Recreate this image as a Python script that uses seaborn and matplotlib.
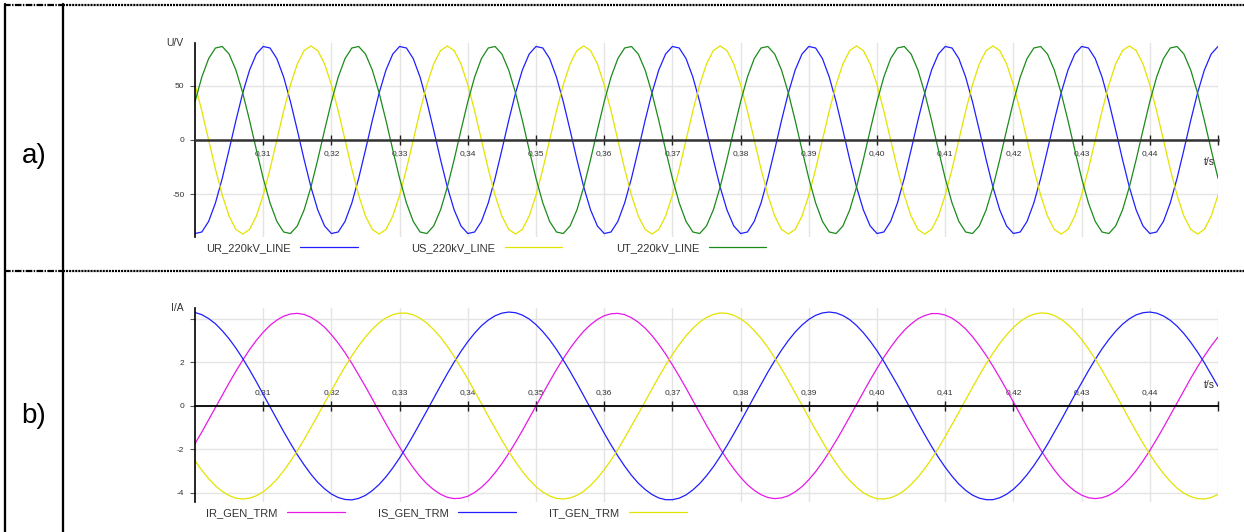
import numpy as np
import pandas as pd
import matplotlib.pyplot as plt
import seaborn as sns
from matplotlib.lines import Line2D


W, H = 1244, 532

# a) voltages on the 220 kV line, one sample per ms starting at t = 0.300 s
VOLT_T0 = 0.300
VOLT_DT = 0.001
UR_220KV_LINE = [
    -86.5, -85.1, -75.3, -58.2, -35.4, -9.1, 18.1, 43.5, 64.7, 79.5, 86.5, 85.1, 75.3, 58.2, 35.4, 9.1, -18.1, -43.5, -64.7, -79.5,
    -86.5, -85.1, -75.3, -58.2, -35.4, -9.1, 18.1, 43.5, 64.7, 79.5, 86.5, 85.1, 75.3, 58.2, 35.4, 9.1, -18.1, -43.5, -64.7, -79.5,
    -86.5, -85.1, -75.3, -58.2, -35.4, -9.1, 18.1, 43.5, 64.7, 79.5, 86.5, 85.1, 75.3, 58.2, 35.4, 9.1, -18.1, -43.5, -64.7, -79.5,
    -86.5, -85.1, -75.3, -58.2, -35.4, -9.1, 18.1, 43.5, 64.7, 79.5, 86.5, 85.1, 75.3, 58.2, 35.4, 9.1, -18.1, -43.5, -64.7, -79.5,
    -86.5, -85.1, -75.3, -58.2, -35.4, -9.1, 18.1, 43.5, 64.7, 79.5, 86.5, 85.1, 75.3, 58.2, 35.4, 9.1, -18.1, -43.5, -64.7, -79.5,
    -86.5, -85.1, -75.3, -58.2, -35.4, -9.1, 18.1, 43.5, 64.7, 79.5, 86.5, 85.1, 75.3, 58.2, 35.4, 9.1, -18.1, -43.5, -64.7, -79.5,
    -86.5, -85.1, -75.3, -58.2, -35.4, -9.1, 18.1, 43.5, 64.7, 79.5, 86.5, 85.1, 75.3, 58.2, 35.4, 9.1, -18.1, -43.5, -64.7, -79.5,
    -86.5, -85.1, -75.3, -58.2, -35.4, -9.1, 18.1, 43.5, 64.7, 79.5, 86.5,
]
US_220KV_LINE = [
    51.1, 26.9, 0.0, -26.9, -51.1, -70.4, -82.7, -87.0, -82.7, -70.4, -51.1, -26.9, 0.0, 26.9, 51.1, 70.4, 82.7, 87.0, 82.7, 70.4,
    51.1, 26.9, 0.0, -26.9, -51.1, -70.4, -82.7, -87.0, -82.7, -70.4, -51.1, -26.9, 0.0, 26.9, 51.1, 70.4, 82.7, 87.0, 82.7, 70.4,
    51.1, 26.9, 0.0, -26.9, -51.1, -70.4, -82.7, -87.0, -82.7, -70.4, -51.1, -26.9, 0.0, 26.9, 51.1, 70.4, 82.7, 87.0, 82.7, 70.4,
    51.1, 26.9, 0.0, -26.9, -51.1, -70.4, -82.7, -87.0, -82.7, -70.4, -51.1, -26.9, 0.0, 26.9, 51.1, 70.4, 82.7, 87.0, 82.7, 70.4,
    51.1, 26.9, 0.0, -26.9, -51.1, -70.4, -82.7, -87.0, -82.7, -70.4, -51.1, -26.9, 0.0, 26.9, 51.1, 70.4, 82.7, 87.0, 82.7, 70.4,
    51.1, 26.9, 0.0, -26.9, -51.1, -70.4, -82.7, -87.0, -82.7, -70.4, -51.1, -26.9, 0.0, 26.9, 51.1, 70.4, 82.7, 87.0, 82.7, 70.4,
    51.1, 26.9, 0.0, -26.9, -51.1, -70.4, -82.7, -87.0, -82.7, -70.4, -51.1, -26.9, 0.0, 26.9, 51.1, 70.4, 82.7, 87.0, 82.7, 70.4,
    51.1, 26.9, 0.0, -26.9, -51.1, -70.4, -82.7, -87.0, -82.7, -70.4, -51.1,
]
UT_220KV_LINE = [
    35.4, 58.2, 75.3, 85.1, 86.5, 79.5, 64.7, 43.5, 18.1, -9.1, -35.4, -58.2, -75.3, -85.1, -86.5, -79.5, -64.7, -43.5, -18.1, 9.1,
    35.4, 58.2, 75.3, 85.1, 86.5, 79.5, 64.7, 43.5, 18.1, -9.1, -35.4, -58.2, -75.3, -85.1, -86.5, -79.5, -64.7, -43.5, -18.1, 9.1,
    35.4, 58.2, 75.3, 85.1, 86.5, 79.5, 64.7, 43.5, 18.1, -9.1, -35.4, -58.2, -75.3, -85.1, -86.5, -79.5, -64.7, -43.5, -18.1, 9.1,
    35.4, 58.2, 75.3, 85.1, 86.5, 79.5, 64.7, 43.5, 18.1, -9.1, -35.4, -58.2, -75.3, -85.1, -86.5, -79.5, -64.7, -43.5, -18.1, 9.1,
    35.4, 58.2, 75.3, 85.1, 86.5, 79.5, 64.7, 43.5, 18.1, -9.1, -35.4, -58.2, -75.3, -85.1, -86.5, -79.5, -64.7, -43.5, -18.1, 9.1,
    35.4, 58.2, 75.3, 85.1, 86.5, 79.5, 64.7, 43.5, 18.1, -9.1, -35.4, -58.2, -75.3, -85.1, -86.5, -79.5, -64.7, -43.5, -18.1, 9.1,
    35.4, 58.2, 75.3, 85.1, 86.5, 79.5, 64.7, 43.5, 18.1, -9.1, -35.4, -58.2, -75.3, -85.1, -86.5, -79.5, -64.7, -43.5, -18.1, 9.1,
    35.4, 58.2, 75.3, 85.1, 86.5, 79.5, 64.7, 43.5, 18.1, -9.1, -35.4,
]

# b) generator terminal currents, one sample per ms starting at t = 0.300 s
CURR_T0 = 0.300
CURR_DT = 0.001
IR_GEN_TRM = [
    -1.73, -1.20, -0.64, -0.07, 0.50, 1.06, 1.60, 2.11, 2.59, 3.02,
    3.39, 3.71, 3.95, 4.13, 4.23, 4.26, 4.21, 4.08, 3.88, 3.62,
    3.28, 2.89, 2.45, 1.96, 1.43, 0.89, 0.32, -0.25, -0.82, -1.37,
    -1.89, -2.39, -2.84, -3.24, -3.58, -3.85, -4.06, -4.20, -4.26, -4.24,
    -4.15, -3.98, -3.74, -3.44, -3.07, -2.65, -2.18, -1.67, -1.13, -0.57,
    0.00, 0.57, 1.13, 1.67, 2.18, 2.65, 3.07, 3.44, 3.74, 3.98,
    4.15, 4.24, 4.26, 4.20, 4.06, 3.85, 3.58, 3.24, 2.84, 2.39,
    1.89, 1.37, 0.82, 0.25, -0.32, -0.89, -1.43, -1.96, -2.45, -2.89,
    -3.28, -3.62, -3.88, -4.08, -4.21, -4.26, -4.23, -4.13, -3.95, -3.71,
    -3.39, -3.02, -2.59, -2.11, -1.60, -1.06, -0.50, 0.07, 0.64, 1.20,
    1.73, 2.24, 2.70, 3.12, 3.48, 3.77, 4.01, 4.16, 4.25, 4.25,
    4.18, 4.04, 3.82, 3.54, 3.19, 2.78, 2.33, 1.83, 1.30, 0.75,
    0.18, -0.39, -0.96, -1.49, -2.02, -2.50, -2.94, -3.33, -3.65, -3.91,
    -4.10, -4.22, -4.26, -4.22, -4.11, -3.93, -3.67, -3.35, -2.97, -2.53,
    -2.05, -1.53, -0.99, -0.43, 0.14, 0.71, 1.27, 1.80, 2.30, 2.76,
    3.17,
]
IS_GEN_TRM = [
    4.30, 4.20, 4.02, 3.78, 3.46, 3.09, 2.66, 2.18, 1.66, 1.11,
    0.54, -0.04, -0.61, -1.18, -1.72, -2.24, -2.71, -3.14, -3.51, -3.81,
    -4.05, -4.21, -4.30, -4.32, -4.25, -4.11, -3.89, -3.61, -3.26, -2.85,
    -2.39, -1.89, -1.35, -0.79, -0.22, 0.36, 0.93, 1.49, 2.02, 2.51,
    2.96, 3.35, 3.69, 3.95, 4.15, 4.27, 4.32, 4.29, 4.18, 4.00,
    3.74, 3.42, 3.04, 2.60, 2.11, 1.59, 1.04, 0.47, -0.11, -0.68,
    -1.25, -1.79, -2.30, -2.77, -3.19, -3.55, -3.84, -4.07, -4.23, -4.31,
    -4.31, -4.24, -4.09, -3.86, -3.57, -3.21, -2.80, -2.33, -1.82, -1.28,
    -0.72, -0.14, 0.43, 1.00, 1.56, 2.08, 2.57, 3.01, 3.40, 3.72,
    3.98, 4.17, 4.28, 4.32, 4.28, 4.16, 3.97, 3.70, 3.37, 2.98,
    2.54, 2.05, 1.51, 0.97, 0.40, -0.18, -0.76, -1.32, -1.86, -2.36,
    -2.82, -3.23, -3.59, -3.88, -4.10, -4.24, -4.31, -4.31, -4.22, -4.06,
    -3.83, -3.53, -3.16, -2.74, -2.27, -1.76, -1.21, -0.65, -0.07, 0.51,
    1.07, 1.62, 2.14, 2.63, 3.06, 3.44, 3.76, 4.01, 4.19, 4.29,
    4.32, 4.27, 4.14, 3.94, 3.67, 3.33, 2.93, 2.48, 1.99, 1.45,
    0.90,
]
IT_GEN_TRM = [
    -2.52, -2.96, -3.34, -3.67, -3.93, -4.12, -4.24, -4.28, -4.24, -4.13,
    -3.95, -3.69, -3.37, -2.98, -2.54, -2.06, -1.54, -0.99, -0.43, 0.14,
    0.71, 1.27, 1.81, 2.31, 2.77, 3.18, 3.53, 3.83, 4.05, 4.20,
    4.27, 4.27, 4.19, 4.04, 3.81, 3.51, 3.16, 2.74, 2.28, 1.77,
    1.24, 0.68, 0.11, -0.47, -1.03, -1.58, -2.09, -2.57, -3.01, -3.39,
    -3.71, -3.96, -4.14, -4.25, -4.28, -4.23, -4.11, -3.92, -3.65, -3.32,
    -2.93, -2.49, -2.00, -1.47, -0.92, -0.36, 0.21, 0.78, 1.34, 1.87,
    2.37, 2.82, 3.23, 3.57, 3.86, 4.07, 4.21, 4.28, 4.26, 4.17,
    4.01, 3.78, 3.47, 3.11, 2.69, 2.22, 1.71, 1.17, 0.61, 0.04,
    -0.54, -1.10, -1.64, -2.16, -2.63, -3.06, -3.43, -3.74, -3.99, -4.16,
    -4.26, -4.28, -4.22, -4.09, -3.89, -3.61, -3.27, -2.88, -2.43, -1.94,
    -1.41, -0.85, -0.29, 0.29, 0.85, 1.41, 1.94, 2.43, 2.88, 3.27,
    3.61, 3.89, 4.09, 4.22, 4.28, 4.26, 4.16, 3.99, 3.74, 3.43,
    3.06, 2.63, 2.16, 1.64, 1.10, 0.54, -0.04, -0.61, -1.17, -1.71,
    -2.22, -2.69, -3.11, -3.47, -3.78, -4.01, -4.17, -4.26, -4.28, -4.21,
    -4.07,
]

X_TICKS = [0.31, 0.32, 0.33, 0.34, 0.35, 0.36, 0.37, 0.38, 0.39, 0.40, 0.41, 0.42, 0.43, 0.44, 0.45]
X_TICK_LABELS = ["0,31", "0,32", "0,33", "0,34", "0,35", "0,36", "0,37", "0,38",
                 "0,39", "0,40", "0,41", "0,42", "0,43", "0,44", ""]
VOLT_Y_TICKS = [-50, 0, 50]
VOLT_Y_LABELS = ["-50", "0", "50"]
CURR_Y_TICKS = [-4, -2, 0, 2, 4]
CURR_Y_LABELS = ["-4", "-2", "0", "2", ""]

VOLT_COLORS = {"UR_220kV_LINE": "#1f1fff", "US_220kV_LINE": "#e3e300", "UT_220kV_LINE": "#1b8a1b"}
CURR_COLORS = {"IR_GEN_TRM": "#e619e6", "IS_GEN_TRM": "#1f1fff", "IT_GEN_TRM": "#e3e300"}

TEXT = "#333333"


def px_rect(left, top, right, bottom):
    return [left / W, 1 - bottom / H, (right - left) / W, (bottom - top) / H]


def to_long(t0, dt, series):
    n = len(next(iter(series.values())))
    t = t0 + dt * np.arange(n)
    frames = [pd.DataFrame({"t": t, "value": vals, "signal": name}) for name, vals in series.items()]
    return pd.concat(frames, ignore_index=True)


def draw_panel(ax, df, colors, ylim, yticks, ylabels, unit, labels_above, axis_color, axis_width, legend_gap):
    sns.lineplot(data=df, x="t", y="value", hue="signal", palette=colors,
                 linewidth=0.9, ax=ax, legend=True)

    ax.set_xlim(0.30, 0.45)
    ax.set_ylim(*ylim)
    ax.set_xticks(X_TICKS)
    ax.set_xticklabels(X_TICK_LABELS)
    ax.set_yticks(yticks)
    ax.set_yticklabels(ylabels)
    ax.set_xlabel("")
    ax.set_ylabel("")
    ax.grid(True, color="#e4e4e4", linewidth=1.0)
    ax.set_axisbelow(True)

    ax.spines["right"].set_visible(False)
    ax.spines["left"].set_linewidth(1.2)
    ax.spines["left"].set_color("black")
    ax.spines["bottom"].set_position(("data", 0))
    ax.spines["bottom"].set_linewidth(axis_width)
    ax.spines["bottom"].set_color(axis_color)
    ax.spines["top"].set_visible(False)

    # current panel has its time labels above the zero line
    if labels_above:
        ax.spines["top"].set_position(("data", 0))
        ax.tick_params(axis="x", bottom=False, top=True, labelbottom=False, labeltop=True)
    else:
        ax.tick_params(axis="x", bottom=True, top=False, labelbottom=True, labeltop=False)
    ax.tick_params(axis="x", which="major", direction="inout", length=7.2, width=1.0,
                   color="#222222", labelsize=6, labelcolor=TEXT, pad=3.8)
    ax.tick_params(axis="y", left=True, direction="out", length=3.6, width=0.8,
                   color="#555555", labelsize=6, labelcolor=TEXT, pad=4.0)

    ax.text(-0.0114, 0.997, unit, transform=ax.transAxes, ha="right", va="center",
            fontsize=7.5, color=TEXT)
    t_y = 0.603 if labels_above else 0.387
    ax.text(0.992, t_y, "t/s", transform=ax.transAxes, ha="center", va="center",
            fontsize=7.5, color=TEXT)

    handles, labels = ax.get_legend_handles_labels()
    ax.legend(handles, labels, loc="center left", bbox_to_anchor=(0.0108, -0.055),
              ncol=3, frameon=False, markerfirst=False, handlelength=5.2,
              handletextpad=0.85, columnspacing=legend_gap, fontsize=8,
              labelcolor=TEXT, borderaxespad=0, borderpad=0)


def draw_frame(fig):
    solid = dict(color="black", linewidth=1.65, transform=fig.transFigure)
    for x in (5.2, 62.5):
        fig.add_artist(Line2D([x / W, x / W], [1 - 4 / H, 0], **solid))
    for y in (5.3, 270.7):
        fig.add_artist(Line2D([4 / W, 62.5 / W], [1 - y / H, 1 - y / H], color="black",
                              linewidth=1.6, dashes=(4.8, 1.0, 1.0, 1.0), transform=fig.transFigure))
        fig.add_artist(Line2D([62.5 / W, 1], [1 - y / H, 1 - y / H], color="black",
                              linewidth=1.6, dashes=(1.5, 0.7), transform=fig.transFigure))
    fig.text(34 / W, 1 - 156 / H, "a)", ha="center", va="center", fontsize=20, color="black")
    fig.text(34 / W, 1 - 416 / H, "b)", ha="center", va="center", fontsize=20, color="black")


if __name__ == "__main__":
    sns.set_style("white")
    plt.rcParams["font.family"] = ["Liberation Sans", "DejaVu Sans"]
    plt.rcParams["lines.scale_dashes"] = False

    volt_df = to_long(VOLT_T0, VOLT_DT, {
        "UR_220kV_LINE": UR_220KV_LINE,
        "US_220kV_LINE": US_220KV_LINE,
        "UT_220kV_LINE": UT_220KV_LINE,
    })
    curr_df = to_long(CURR_T0, CURR_DT, {
        "IR_GEN_TRM": IR_GEN_TRM,
        "IS_GEN_TRM": IS_GEN_TRM,
        "IT_GEN_TRM": IT_GEN_TRM,
    })

    fig = plt.figure(figsize=(W / 100, H / 100), dpi=100)
    ax_u = fig.add_axes(px_rect(195, 42.7, 1218, 237.3))
    ax_i = fig.add_axes(px_rect(195, 307.7, 1218, 502.3))

    draw_panel(ax_u, volt_df, VOLT_COLORS, (-90, 90), VOLT_Y_TICKS, VOLT_Y_LABELS,
               "U/V", False, "#333333", 1.8, 4.8)
    draw_panel(ax_i, curr_df, CURR_COLORS, (-4.43, 4.52), CURR_Y_TICKS, CURR_Y_LABELS,
               "I/A", True, "black", 1.3, 3.0)

    draw_frame(fig)
    fig.savefig("out.png", dpi=100)
    plt.close(fig)
